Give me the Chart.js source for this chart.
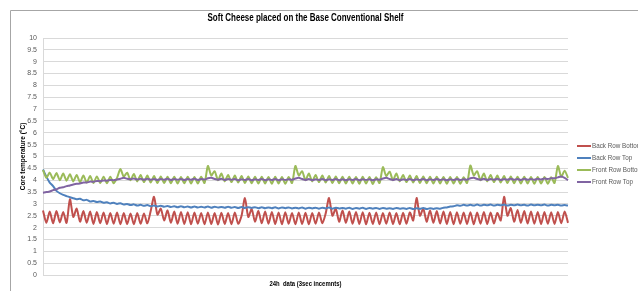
<!DOCTYPE html>
<html>
<head>
<meta charset="utf-8">
<title>Soft Cheese placed on the Base Conventional Shelf</title>
<script src="https://cdn.jsdelivr.net/npm/chart.js@4"></script>
<style>
  html, body { margin: 0; padding: 0; background: #fff; }
  #wrap { width: 638px; height: 291px; position: relative; }
</style>
</head>
<body>
<div id="wrap"><canvas id="cheeseChart" width="638" height="291"></canvas></div>
<script>
// Series names (legend order)
const seriesNames = ['Back Row Bottom', 'Back Row Top', 'Front Row Bottom', 'Front Row Top'];

// Core temperatures (°C), one sample per half cycle
const backRowBottom = [
  2.72, 2.2, 2.68, 2.18, 2.7, 2.22, 2.66, 2.2,
  3.2,
  2.45, 2.8, 2.25, 2.7, 2.2, 2.68, 2.15, 2.66, 2.18, 2.64, 2.15, 2.62, 2.16, 2.64, 2.14, 2.62, 2.15, 2.6, 2.14, 2.62, 2.16, 2.6, 2.18, 2.7,
  3.3,
  2.55, 2.8, 2.3, 2.72, 2.2, 2.68, 2.16, 2.66, 2.15, 2.65, 2.14, 2.64, 2.16, 2.62, 2.14, 2.64, 2.15, 2.62, 2.13, 2.63, 2.15, 2.62, 2.14, 2.64, 2.16, 2.5,
  3.25,
  2.45, 2.78, 2.25, 2.7, 2.18, 2.68, 2.16, 2.66, 2.15, 2.64, 2.14, 2.65, 2.16, 2.62, 2.14, 2.64, 2.15, 2.63, 2.14, 2.62, 2.16, 2.64, 2.18, 2.6,
  3.25,
  2.5, 2.8, 2.25, 2.72, 2.2, 2.68, 2.16, 2.66, 2.15, 2.65, 2.14, 2.63, 2.15, 2.64, 2.14, 2.62, 2.16, 2.64, 2.15, 2.62, 2.14, 2.63, 2.16, 2.64, 2.3,
  3.25,
  2.5, 2.8, 2.25, 2.72, 2.2, 2.7, 2.17, 2.68, 2.15, 2.66, 2.14, 2.65, 2.16, 2.64, 2.15, 2.65, 2.14, 2.64, 2.16, 2.66, 2.15, 2.64, 2.17, 2.62, 2.3,
  3.3,
  2.5, 2.82, 2.25, 2.74, 2.2, 2.7, 2.17, 2.68, 2.16, 2.66, 2.15, 2.66, 2.16, 2.65, 2.15, 2.66, 2.18, 2.68, 2.2
];

const backRowTop = [
  4.45, 4.15, 3.9, 3.75, 3.55, 3.45, 3.38, 3.33, 3.28, 3.24,
  3.2, 3.22, 3.15, 3.17, 3.1, 3.12, 3.08, 3.1, 3.05, 3.07,
  3.02, 3.05, 3.0, 3.03, 2.97, 3.0, 2.95, 2.98, 2.93, 2.96,
  2.92, 2.95, 2.9, 2.93, 2.89, 2.92, 2.88, 2.91, 2.87, 2.9,
  2.86, 2.9, 2.86, 2.89, 2.85, 2.89, 2.85, 2.88, 2.85, 2.89,
  2.84, 2.88, 2.85, 2.87, 2.84, 2.88, 2.84, 2.87, 2.83, 2.87,
  2.83, 2.86, 2.83, 2.86, 2.82, 2.86, 2.82, 2.85, 2.82, 2.86,
  2.81, 2.85, 2.82, 2.85, 2.81, 2.84, 2.81, 2.85, 2.8, 2.84,
  2.81, 2.84, 2.8, 2.84, 2.81, 2.85, 2.8, 2.84, 2.81, 2.83,
  2.8, 2.84, 2.79, 2.83, 2.8, 2.84, 2.79, 2.83, 2.8, 2.83,
  2.79, 2.83, 2.8, 2.82, 2.79, 2.83, 2.8, 2.82, 2.79, 2.83,
  2.78, 2.82, 2.79, 2.83, 2.78, 2.82, 2.79, 2.82, 2.8, 2.84,
  2.85, 2.89, 2.9, 2.94, 2.92, 2.96, 2.93, 2.96, 2.93, 2.97,
  2.93, 2.96, 2.94, 2.97, 2.93, 2.96, 2.94, 2.97, 2.93, 2.96,
  2.94, 2.97, 2.94, 2.96, 2.93, 2.97, 2.94, 2.96, 2.94, 2.97,
  2.93, 2.96, 2.94, 2.96, 2.93, 2.95, 2.93
];

const frontRowBottom = [
  4.43, 4.1, 4.32, 4.05, 4.3, 4.0, 4.28, 3.98, 4.25, 3.95,
  4.22, 3.92, 4.2, 3.9, 4.18, 3.88, 4.16, 3.88, 4.15, 3.87,
  4.15, 3.87, 4.1,
  4.47,
  4.15, 4.32, 4.0, 4.26, 3.95, 4.22, 3.92, 4.2, 3.9, 4.18, 3.88, 4.16, 3.88, 4.15, 3.87,
  4.15, 3.86, 4.14, 3.87, 4.15, 3.86, 4.14, 3.86, 4.15, 3.88,
  4.6,
  4.2, 4.38, 4.0, 4.28, 3.95, 4.22, 3.92, 4.2, 3.9, 4.18, 3.88, 4.16, 3.87, 4.15, 3.86,
  4.15, 3.86, 4.14, 3.85, 4.15, 3.86, 4.14, 3.85, 4.13, 3.88,
  4.6,
  4.2, 4.38, 4.0, 4.28, 3.95, 4.22, 3.92, 4.2, 3.9, 4.18, 3.88, 4.16, 3.87, 4.15, 3.86,
  4.15, 3.86, 4.14, 3.85, 4.15, 3.86, 4.14, 3.84, 4.12, 3.88,
  4.55,
  4.18, 4.36, 4.0, 4.28, 3.95, 4.22, 3.92, 4.2, 3.9, 4.18, 3.88, 4.16, 3.87, 4.15, 3.86,
  4.15, 3.86, 4.14, 3.85, 4.14, 3.86, 4.13, 3.85, 4.12, 3.88,
  4.62,
  4.2, 4.38, 4.0, 4.28, 3.95, 4.22, 3.92, 4.2, 3.9, 4.18, 3.88, 4.16, 3.87, 4.15, 3.86,
  4.15, 3.86, 4.14, 3.85, 4.14, 3.86, 4.13, 3.85, 4.12, 3.88,
  4.6,
  4.15, 4.4, 4.1
];

const frontRowTop = [
  3.47, 3.5, 3.52, 3.58, 3.62, 3.68, 3.7, 3.75, 3.78, 3.82,
  3.85, 3.86, 3.9, 3.9, 3.94, 3.93, 3.97, 3.96, 3.99, 3.98,
  4.01, 4.0, 4.03, 4.06, 4.1, 4.06, 4.04, 4.07, 4.03, 4.06,
  4.02, 4.06, 4.02, 4.05, 4.01, 4.05, 4.02, 4.06, 4.01, 4.05,
  4.02, 4.05, 4.01, 4.05, 4.02, 4.06, 4.01, 4.05, 4.03, 4.08,
  4.1, 4.05, 4.02, 4.06, 4.01, 4.05, 4.02, 4.05, 4.0, 4.04,
  4.01, 4.05, 4.0, 4.04, 4.01, 4.05, 4.0, 4.04, 4.01, 4.05,
  4.0, 4.04, 4.01, 4.04, 4.02, 4.07, 4.1, 4.05, 4.01, 4.05,
  4.0, 4.04, 4.01, 4.05, 4.0, 4.04, 4.01, 4.05, 4.0, 4.04,
  4.0, 4.04, 4.01, 4.05, 4.0, 4.04, 4.01, 4.04, 4.0, 4.04,
  4.02, 4.07, 4.1, 4.05, 4.01, 4.05, 4.0, 4.04, 4.01, 4.05,
  4.0, 4.04, 4.01, 4.05, 4.0, 4.04, 4.01, 4.05, 4.01, 4.04,
  4.0, 4.04, 4.01, 4.05, 4.01, 4.04, 4.02, 4.08, 4.1, 4.05,
  4.02, 4.06, 4.01, 4.05, 4.02, 4.06, 4.01, 4.05, 4.02, 4.06,
  4.02, 4.05, 4.01, 4.06, 4.02, 4.05, 4.02, 4.06, 4.03, 4.07,
  4.05, 4.08, 4.08, 4.12, 4.16, 4.1, 4.0
];

// Sample labels (24h of readings, no tick text shown)
const sampleLabels = backRowBottom.map((_, i) => i);

const seriesColors = ['#C0504D', '#4F81BD', '#9BBB59', '#8064A2'];
const seriesData = [backRowBottom, backRowTop, frontRowBottom, frontRowTop];

// Frame, titles and legend drawn in the places the picture has them
const decorPlugin = {
    id: 'decor',
    beforeDraw(chart) {
        const ctx = chart.ctx;
        ctx.save();
        ctx.strokeStyle = '#a6a6a6';
        ctx.lineWidth = 1;
        ctx.beginPath();
        ctx.moveTo(10.5, 291);
        ctx.lineTo(10.5, 10.5);
        ctx.lineTo(638, 10.5);
        ctx.stroke();
        ctx.restore();
    },
    afterDraw(chart) {
        const ctx = chart.ctx;
        const area = chart.chartArea;
        const midX = (area.left + area.right) / 2;
        ctx.save();

        // chart title
        ctx.fillStyle = '#000';
        ctx.textAlign = 'center';
        ctx.textBaseline = 'middle';
        ctx.font = 'bold 10px "Liberation Sans", Arial, sans-serif';
        ctx.fillText('Soft Cheese placed on the Base Conventional Shelf', midX, 18, 196);

        // axis titles
        ctx.font = 'bold 6.5px "Liberation Sans", Arial, sans-serif';
        ctx.fillText('24h  data (3sec incemnts)', midX, 284, 72);
        ctx.save();
        ctx.translate(23, (area.top + area.bottom) / 2);
        ctx.rotate(-Math.PI / 2);
        ctx.fillText('Core temperature (°C)', 0, 0, 76);
        ctx.restore();

        // legend
        ctx.textAlign = 'left';
        ctx.font = '6.3px "Liberation Sans", Arial, sans-serif';
        chart.data.datasets.forEach((ds, i) => {
            const y = 146 + i * 12;
            ctx.strokeStyle = ds.borderColor;
            ctx.lineWidth = 2;
            ctx.beginPath();
            ctx.moveTo(577, y);
            ctx.lineTo(591, y);
            ctx.stroke();
            ctx.fillStyle = '#595959';
            ctx.fillText(ds.label, 592, y + 0.5);
        });
        ctx.restore();
    }
};

const ctxCheese = document.getElementById('cheeseChart').getContext('2d');
const cheeseChart = new Chart(ctxCheese, {
    type: 'line',
    data: {
        labels: sampleLabels,
        datasets: seriesNames.map((name, i) => ({
            label: name,
            data: seriesData[i],
            borderColor: seriesColors[i],
            backgroundColor: seriesColors[i],
            borderWidth: 2,
            pointRadius: 0,
            tension: 0.25,
            order: seriesNames.length - i // last series drawn on top
        }))
    },
    options: {
        responsive: false,
        animation: false,
        layout: { padding: { left: 0, right: 70, top: 38, bottom: 16 } },
        plugins: {
            legend: { display: false },
            title: { display: false },
            tooltip: { enabled: false }
        },
        scales: {
            x: { display: false },
            y: {
                min: 0,
                max: 10,
                afterFit: (scale) => { scale.width = 43; },
                ticks: {
                    stepSize: 0.5,
                    padding: 6,
                    color: '#595959',
                    font: { family: '"Liberation Sans", Arial, sans-serif', size: 7 },
                    callback: (value) => String(value)
                },
                grid: { color: '#d9d9d9', drawTicks: false },
                border: { color: '#d9d9d9' }
            }
        }
    },
    plugins: [decorPlugin]
});
</script>
</body>
</html>
